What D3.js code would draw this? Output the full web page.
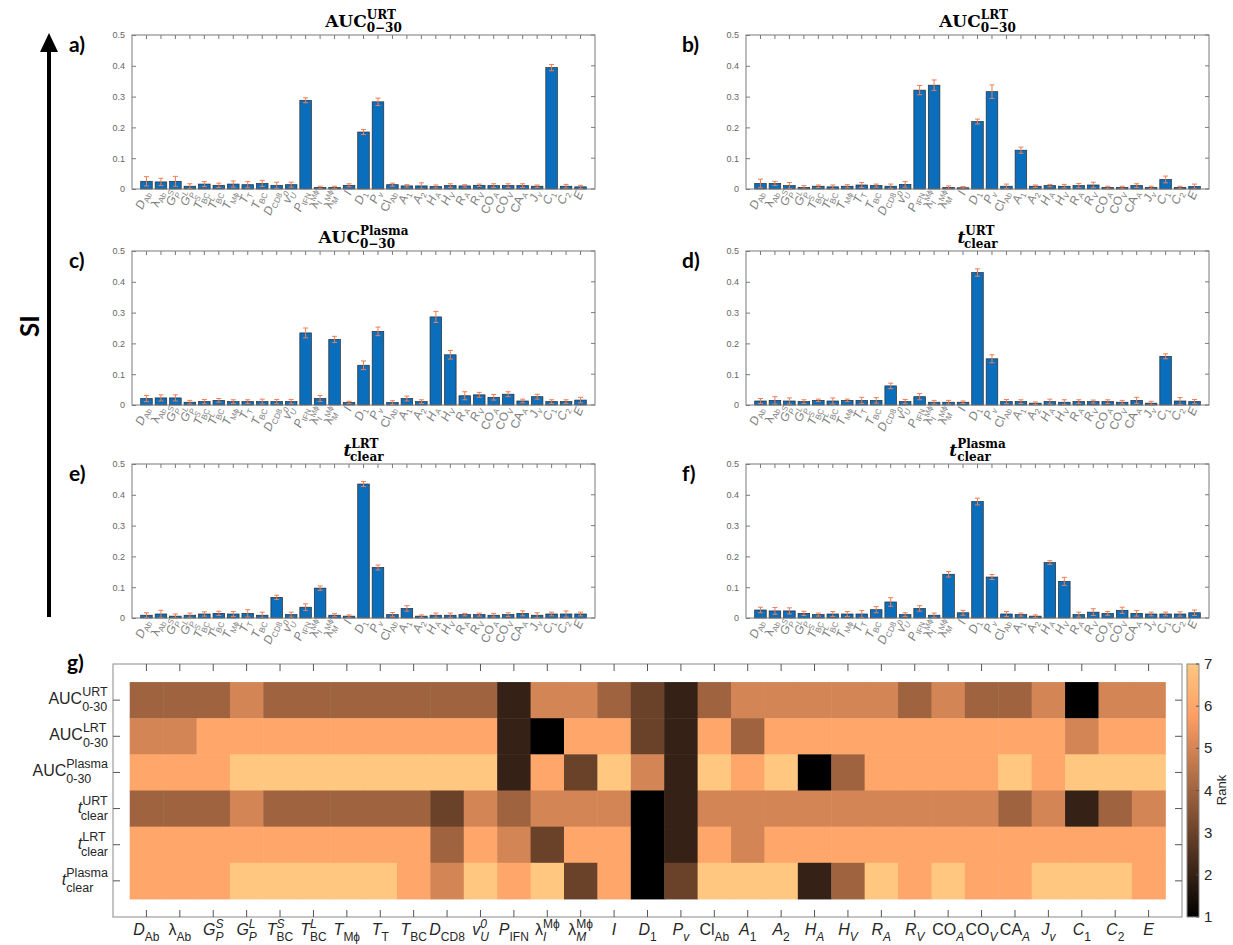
<!DOCTYPE html>
<html>
<head>
<meta charset="utf-8">
<script src="https://cdn.jsdelivr.net/npm/d3@7"></script>
<style>
  body { margin: 0; background: #fff; }
  text { font-family: "Liberation Sans", Arial, sans-serif; }
</style>
</head>
<body>
<script>
// parameter names, *x* = italic, _{..} sub, ^{..} sup
const params = ["*D*_{Ab}", "λ_{Ab}", "*G*^{*S*}_{*P*}", "*G*^{*L*}_{*P*}", "*T*^{*S*}_{BC}", "*T*^{*L*}_{BC}",
  "*T*_{Mϕ}", "*T*_{T}", "*T*_{BC}", "*D*_{CD8}", "*v*^{*0*}_{*U*}", "*P*_{IFN}", "λ^{Mϕ}_{*I*}", "λ^{Mϕ}_{*M*}",
  "*I*", "*D*_{1}", "*P*_{*v*}", "Cl_{Ab}", "*A*_{1}", "*A*_{2}", "*H*_{*A*}", "*H*_{*V*}", "*R*_{*A*}", "*R*_{*V*}",
  "CO_{*A*}", "CO_{*V*}", "CA_{*A*}", "*J*_{*v*}", "*C*_{1}", "*C*_{2}", "*E*"];

// sensitivity indices and error half-widths
const siAucUrt = [0.025,0.023,0.025,0.009,0.016,0.012,0.016,0.014,0.018,0.012,0.014,0.288,0.005,0.005,0.012,0.185,0.283,0.014,0.010,0.010,0.008,0.011,0.010,0.012,0.011,0.011,0.011,0.009,0.394,0.009,0.007];
const errAucUrt = [0.015,0.012,0.016,0.008,0.008,0.007,0.010,0.010,0.010,0.010,0.008,0.008,0.004,0.004,0.005,0.008,0.012,0.005,0.004,0.010,0.005,0.006,0.004,0.004,0.006,0.006,0.006,0.004,0.010,0.006,0.005];
const siAucLrt = [0.018,0.018,0.011,0.005,0.009,0.007,0.009,0.013,0.011,0.009,0.015,0.321,0.337,0.005,0.004,0.219,0.316,0.009,0.126,0.009,0.011,0.009,0.011,0.013,0.005,0.005,0.011,0.005,0.031,0.005,0.008];
const errAucLrt = [0.014,0.007,0.010,0.006,0.004,0.006,0.005,0.008,0.005,0.007,0.009,0.015,0.017,0.005,0.004,0.008,0.022,0.007,0.010,0.004,0.004,0.006,0.007,0.009,0.004,0.004,0.006,0.004,0.011,0.004,0.008];
const siAucPlasma = [0.021,0.023,0.023,0.009,0.011,0.015,0.011,0.011,0.011,0.011,0.011,0.234,0.021,0.213,0.008,0.129,0.239,0.008,0.021,0.011,0.286,0.163,0.030,0.033,0.025,0.035,0.013,0.027,0.011,0.011,0.016];
const errAucPlasma = [0.010,0.010,0.010,0.006,0.007,0.006,0.006,0.006,0.008,0.007,0.007,0.016,0.010,0.010,0.004,0.014,0.014,0.006,0.008,0.006,0.018,0.014,0.013,0.008,0.009,0.008,0.006,0.008,0.006,0.006,0.009];
const siTUrt = [0.013,0.015,0.013,0.011,0.015,0.013,0.015,0.015,0.015,0.062,0.011,0.027,0.009,0.009,0.009,0.430,0.150,0.011,0.011,0.006,0.011,0.009,0.011,0.011,0.011,0.009,0.015,0.006,0.158,0.013,0.011];
const errTUrt = [0.008,0.012,0.010,0.006,0.004,0.010,0.004,0.010,0.009,0.009,0.007,0.010,0.006,0.006,0.004,0.012,0.013,0.007,0.006,0.004,0.008,0.008,0.006,0.005,0.006,0.006,0.010,0.006,0.008,0.011,0.007];
const siTLrt = [0.009,0.013,0.006,0.009,0.013,0.015,0.013,0.015,0.009,0.067,0.011,0.035,0.097,0.009,0.006,0.435,0.164,0.011,0.031,0.006,0.009,0.009,0.011,0.011,0.009,0.011,0.015,0.009,0.013,0.013,0.013];
const errTLrt = [0.008,0.012,0.007,0.007,0.007,0.007,0.008,0.012,0.010,0.007,0.008,0.011,0.007,0.005,0.004,0.008,0.008,0.007,0.009,0.004,0.007,0.007,0.004,0.005,0.006,0.006,0.008,0.008,0.006,0.010,0.006];
const siTPlasma = [0.026,0.023,0.023,0.015,0.011,0.013,0.013,0.013,0.027,0.052,0.011,0.031,0.009,0.142,0.017,0.378,0.133,0.013,0.011,0.006,0.180,0.119,0.011,0.019,0.015,0.025,0.015,0.013,0.013,0.013,0.017];
const errTPlasma = [0.009,0.011,0.010,0.007,0.005,0.008,0.008,0.011,0.010,0.014,0.006,0.009,0.007,0.009,0.008,0.011,0.008,0.008,0.005,0.004,0.006,0.013,0.008,0.011,0.006,0.010,0.009,0.006,0.006,0.007,0.009];

const yTicks = [0, 0.1, 0.2, 0.3, 0.4, 0.5];

// rank matrix, rows in heatmap order
const rowLabels = ["AUC^{URT}_{0-30}", "AUC^{LRT}_{0-30}", "AUC^{Plasma}_{0-30}", "*t*^{URT}_{clear}", "*t*^{LRT}_{clear}", "*t*^{Plasma}_{clear}"];
const rankAucUrt    = [4,4,4,5,4,4,4,4,4,4,4,2,5,5,4,3,2,4,5,5,5,5,5,4,5,4,4,5,1,5,5];
const rankAucLrt    = [5,5,6,6,6,6,6,6,6,6,6,2,1,6,6,3,2,6,4,6,6,6,6,6,6,6,6,6,5,6,6];
const rankAucPlasma = [6,6,6,7,7,7,7,7,7,7,7,2,6,3,7,5,2,7,6,7,1,4,6,6,6,6,7,6,7,7,7];
const rankTUrt      = [4,4,4,5,4,4,4,4,4,3,5,4,5,5,5,1,2,5,5,5,5,5,5,5,5,5,4,5,2,4,5];
const rankTLrt      = [6,6,6,6,6,6,6,6,6,4,6,5,3,6,6,1,2,6,5,6,6,6,6,6,6,6,6,6,6,6,6];
const rankTPlasma   = [6,6,6,7,7,7,7,7,6,5,7,6,7,3,6,1,3,7,7,7,2,4,7,6,7,6,6,7,7,7,6];
const rankTicks = [1, 2, 3, 4, 5, 6, 7];

const W = 1233, H = 945;
const svg = d3.select("body").append("svg").attr("width", W).attr("height", H);

function parseLabel(s) {
  const segs = [];
  let mode = "base", it = false, buf = "";
  const flush = () => { if (buf) segs.push({text: buf, it: it, mode: mode}); buf = ""; };
  for (let i = 0; i < s.length; i++) {
    const c = s[i];
    if (c === "*") { flush(); it = !it; }
    else if ((c === "_" || c === "^") && s[i + 1] === "{") { flush(); mode = c === "_" ? "sub" : "sup"; i++; }
    else if (c === "}") { flush(); mode = "base"; }
    else buf += c;
  }
  flush();
  return segs;
}

// writes a label with stacked sup/sub into a text element
function richText(t, str, o) {
  let off = 0, prev = "base", supW = 0;
  parseLabel(str).forEach(seg => {
    const target = seg.mode === "sup" ? -o.sup : seg.mode === "sub" ? o.sub : 0;
    const ts = t.append("tspan").text(seg.text)
      .attr("dy", target - off)
      .attr("font-size", seg.mode === "base" ? o.size : o.small)
      .style("font-style", seg.it ? "italic" : "normal");
    if (o.weight) ts.style("font-weight", o.weight);
    if (seg.mode === "sub" && prev === "sup") ts.attr("dx", -supW);
    off = target;
    const w = ts.node().getComputedTextLength();
    if (seg.mode === "sup") { if (prev !== "sup") supW = 0; supW += w; }
    prev = seg.mode;
  });
}

// ---------- bar panels ----------
const PW = 463, PH = 154;
const panels = [
  {id: "a)", x: 132, y: 35, title: "AUC^{URT}_{0−30}", si: siAucUrt, err: errAucUrt},
  {id: "b)", x: 746, y: 35, title: "AUC^{LRT}_{0−30}", si: siAucLrt, err: errAucLrt},
  {id: "c)", x: 132, y: 251, title: "AUC^{Plasma}_{0−30}", si: siAucPlasma, err: errAucPlasma},
  {id: "d)", x: 746, y: 251, title: "*t*^{URT}_{clear}", si: siTUrt, err: errTUrt},
  {id: "e)", x: 132, y: 464, title: "*t*^{LRT}_{clear}", si: siTLrt, err: errTLrt},
  {id: "f)", x: 746, y: 464, title: "*t*^{Plasma}_{clear}", si: siTPlasma, err: errTPlasma}
];

panels.forEach(p => {
  const x = d3.scaleLinear().domain([0, 32]).range([p.x, p.x + PW]);
  const y = d3.scaleLinear().domain([0, 0.5]).range([p.y + PH, p.y]);
  const g = svg.append("g");
  const bw = x(0.8) - x(0);

  g.selectAll("rect.bar").data(p.si).join("rect")
    .attr("x", (d, i) => x(i + 1) - bw / 2).attr("y", d => y(d))
    .attr("width", bw).attr("height", d => y(0) - y(d))
    .attr("fill", "#0a6ebd").attr("stroke", "#2b2b2b").attr("stroke-width", 0.7);

  const eb = g.selectAll("g.err").data(p.si).join("g")
    .attr("stroke", "#ef7d52").attr("stroke-width", 1);
  eb.append("line").attr("x1", (d, i) => x(i + 1)).attr("x2", (d, i) => x(i + 1))
    .attr("y1", (d, i) => y(Math.max(0, d - p.err[i]))).attr("y2", (d, i) => y(d + p.err[i]));
  eb.append("line").attr("x1", (d, i) => x(i + 1) - 2.5).attr("x2", (d, i) => x(i + 1) + 2.5)
    .attr("y1", (d, i) => y(d + p.err[i])).attr("y2", (d, i) => y(d + p.err[i]));
  eb.append("line").attr("x1", (d, i) => x(i + 1) - 2.5).attr("x2", (d, i) => x(i + 1) + 2.5)
    .attr("y1", (d, i) => y(Math.max(0, d - p.err[i]))).attr("y2", (d, i) => y(Math.max(0, d - p.err[i])));

  // box + inward ticks
  g.append("rect").attr("x", p.x).attr("y", p.y).attr("width", PW).attr("height", PH)
    .attr("fill", "none").attr("stroke", "#7a7a7a").attr("stroke-width", 1);
  const ya = g.append("g").attr("transform", `translate(${p.x},0)`)
    .call(d3.axisLeft(y).tickValues(yTicks).tickSizeInner(-4).tickSizeOuter(0).tickPadding(7).tickFormat(d3.format("")));
  ya.select(".domain").remove();
  ya.selectAll("line").attr("stroke", "#7a7a7a");
  ya.selectAll("text").attr("fill", "#666").attr("font-size", 9);
  g.append("g").selectAll("line").data(yTicks).join("line")
    .attr("x1", p.x + PW).attr("x2", p.x + PW - 4).attr("y1", d => y(d)).attr("y2", d => y(d))
    .attr("stroke", "#7a7a7a");
  g.append("g").selectAll("line").data(params).join("line")
    .attr("x1", (d, i) => x(i + 1)).attr("x2", (d, i) => x(i + 1))
    .attr("y1", p.y).attr("y2", p.y + 4).attr("stroke", "#7a7a7a");

  // rotated parameter labels
  params.forEach((lab, i) => {
    const t = g.append("g")
      .attr("transform", `translate(${x(i + 1) + 3},${p.y + PH + 4})`)
      .append("text").attr("text-anchor", "end").attr("fill", "#808080")
      .attr("transform", "rotate(-68)");
    richText(t, lab, {size: 12, small: 8, sup: 4.5, sub: 3});
  });

  // title
  const tt = svg.append("text").attr("x", p.x + PW / 2).attr("y", p.y - 8)
    .attr("text-anchor", "middle").attr("fill", "#000")
    .style("font-family", "'DejaVu Serif', 'Liberation Serif', serif");
  richText(tt, p.title, {size: 17, small: 12, sup: 8, sub: 5, weight: "bold"});

  svg.append("text").attr("x", p.x < 400 ? 69 : 682).attr("y", p.y + 17)
    .attr("font-size", 21).attr("font-weight", "bold").style("font-family", "Lato, 'Open Sans', sans-serif")
    .text(p.id);
});

// ---------- SI arrow ----------
svg.append("line").attr("x1", 49).attr("x2", 49).attr("y1", 617).attr("y2", 48)
  .attr("stroke", "#000").attr("stroke-width", 4);
svg.append("path").attr("d", "M49,33 L58,52 L40,52 Z").attr("fill", "#000");
svg.append("text").attr("transform", "translate(39,326) rotate(-90)")
  .attr("text-anchor", "middle").attr("font-size", 26).attr("font-weight", "bold")
  .style("font-family", "Lato, 'Open Sans', sans-serif").text("SI");

// ---------- heatmap ----------
const ranks = [rankAucUrt, rankAucLrt, rankAucPlasma, rankTUrt, rankTLrt, rankTPlasma];
const hx = d3.scaleLinear().domain([0, 32]).range([113, 1182]);
const hy = d3.scaleLinear().domain([0, 7]).range([664, 917]);
const copper = v => {
  const s = (v - 1) / 6;
  return d3.rgb(255 * Math.min(1, 1.25 * s), 255 * 0.7812 * s, 255 * 0.4975 * s).toString();
};

const hg = svg.append("g");
ranks.forEach((row, r) => {
  hg.append("g").selectAll("rect").data(row).join("rect")
    .attr("x", (d, i) => hx(i + 0.5)).attr("y", hy(r + 0.5))
    .attr("width", hx(1) - hx(0) + 0.5).attr("height", hy(1) - hy(0) + 0.5)
    .attr("fill", d => copper(d));
});
hg.append("rect").attr("x", 113).attr("y", 664).attr("width", 1069).attr("height", 253)
  .attr("fill", "none").attr("stroke", "#8a8a8a");
hg.append("g").selectAll("line").data(params).join("line")
  .attr("x1", (d, i) => hx(i + 1)).attr("x2", (d, i) => hx(i + 1)).attr("y1", 664).attr("y2", 671).attr("stroke", "#555");
hg.append("g").selectAll("line").data(params).join("line")
  .attr("x1", (d, i) => hx(i + 1)).attr("x2", (d, i) => hx(i + 1)).attr("y1", 917).attr("y2", 910).attr("stroke", "#555");
hg.append("g").selectAll("line").data(rowLabels).join("line")
  .attr("x1", 113).attr("x2", 120).attr("y1", (d, i) => hy(i + 1)).attr("y2", (d, i) => hy(i + 1)).attr("stroke", "#555");
hg.append("g").selectAll("line").data(rowLabels).join("line")
  .attr("x1", 1182).attr("x2", 1175).attr("y1", (d, i) => hy(i + 1)).attr("y2", (d, i) => hy(i + 1)).attr("stroke", "#555");

params.forEach((lab, i) => {
  const t = hg.append("text").attr("x", hx(i + 1)).attr("y", 935).attr("text-anchor", "middle").attr("fill", "#262626");
  richText(t, lab, {size: 16, small: 12, sup: 7, sub: 6});
});
rowLabels.forEach((lab, r) => {
  const t = hg.append("text").attr("x", 0).attr("y", hy(r + 1) + 4).attr("fill", "#262626");
  richText(t, lab, {size: 16, small: 12.5, sup: 8, sub: 7});
  const bw = t.node().getBBox().width;
  t.attr("x", 108 - bw);
});

// colorbar
const cb = d3.scaleLinear().domain([1, 7]).range([917, 664]);
const grad = svg.append("defs").append("linearGradient").attr("id", "cop")
  .attr("x1", 0).attr("y1", 1).attr("x2", 0).attr("y2", 0);
d3.range(0, 1.0001, 0.05).forEach(s => grad.append("stop").attr("offset", s).attr("stop-color", copper(1 + 6 * s)));
svg.append("rect").attr("x", 1187).attr("y", 664).attr("width", 12).attr("height", 253)
  .attr("fill", "url(#cop)").attr("stroke", "#8a8a8a");
svg.append("g").selectAll("line").data(rankTicks).join("line")
  .attr("x1", 1199).attr("x2", 1196).attr("y1", d => cb(d)).attr("y2", d => cb(d)).attr("stroke", "#555");
svg.append("g").selectAll("text").data(rankTicks).join("text")
  .attr("x", 1204).attr("y", d => cb(d) + 5).attr("font-size", 15).attr("fill", "#262626").text(d => d);
svg.append("text").attr("transform", "translate(1226,790) rotate(-90)").attr("text-anchor", "middle")
  .attr("font-size", 13).attr("fill", "#262626").text("Rank");
svg.append("text").attr("x", 67).attr("y", 670).attr("font-size", 21).attr("font-weight", "bold")
  .style("font-family", "Lato, 'Open Sans', sans-serif").text("g)");
</script>
</body>
</html>
